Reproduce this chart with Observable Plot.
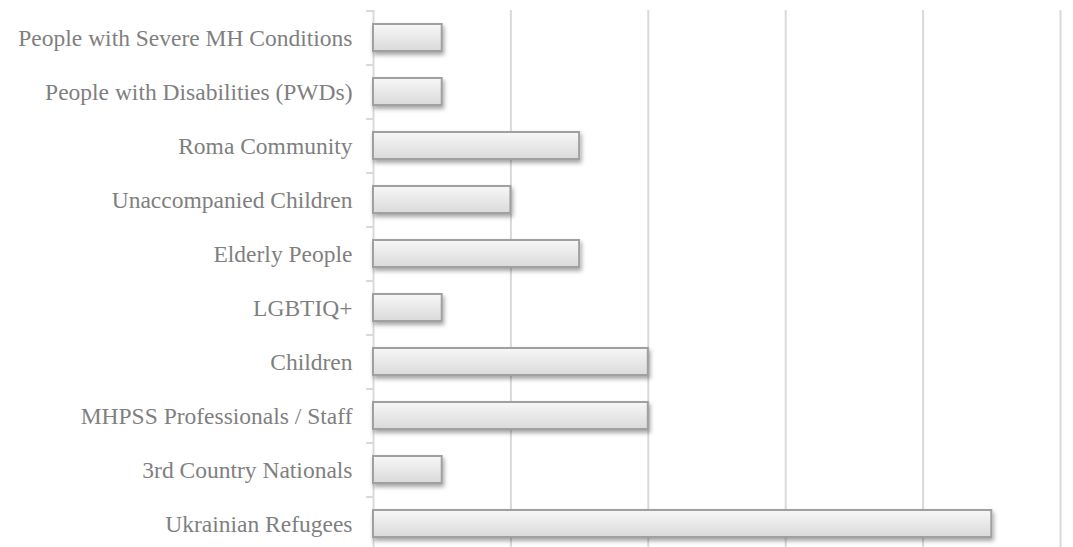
<!DOCTYPE html>
<html>
<head>
<meta charset="utf-8">
<script src="https://cdn.jsdelivr.net/npm/d3@7"></script>
<script src="https://cdn.jsdelivr.net/npm/@observablehq/plot@0.6"></script>
<style>
  html, body { margin: 0; padding: 0; background: #fff; overflow: hidden; }
  #chart { width: 1073px; height: 547px; overflow: hidden; }
</style>
</head>
<body>
<div id="chart"></div>
<script>
const categories = [
  "People with Severe MH Conditions",
  "People with Disabilities (PWDs)",
  "Roma Community",
  "Unaccompanied Children",
  "Elderly People",
  "LGBTIQ+",
  "Children",
  "MHPSS Professionals / Staff",
  "3rd Country Nationals",
  "Ukrainian Refugees"
];
const values = [1, 1, 3, 2, 3, 1, 4, 4, 1, 9];
const gridTicks = [2, 4, 6, 8, 10];

const data = categories.map((c, i) => ({category: c, value: values[i]}));

const W = 1073, H = 550, mTop = 10, mBottom = 0, mLeft = 373, mRight = 13;
const step = (H - mTop - mBottom) / categories.length;

const chart = Plot.plot({
  width: W,
  height: H,
  marginTop: mTop,
  marginBottom: mBottom,
  marginLeft: mLeft,
  marginRight: mRight,
  style: {fontFamily: "'Liberation Serif', 'DejaVu Serif', serif", fontSize: "23.5px", color: "#7f7f7f", background: "#fff"},
  x: {domain: [0, 10], axis: null},
  y: {domain: categories, paddingInner: 0.5, paddingOuter: 0.25, label: null},
  marks: [
    Plot.ruleX(gridTicks, {stroke: "#d9d9d9", strokeWidth: 2}),
    Plot.ruleX([0], {stroke: "#d9d9d9", strokeWidth: 2}),
    Plot.ruleY(categories, {y: d => d, x1: -0.1, x2: 0, dy: -step / 2, stroke: "#d9d9d9", strokeWidth: 2}),
    Plot.ruleY([categories[categories.length - 1]], {y: d => d, x1: -0.1, x2: 0, dy: step / 2, stroke: "#d9d9d9", strokeWidth: 2}),
    Plot.barX(data, {y: "category", x: "value", fill: "url(#barGrad)", stroke: "#a0a0a0", strokeWidth: 2, className: "bars"}),
    Plot.axisY({tickSize: 0, tickPadding: 21, fontSize: 23.5, fill: "#7f7f7f"})
  ]
});

const svg = d3.select(chart);
const defs = svg.insert("defs", ":first-child");
const grad = defs.append("linearGradient").attr("id", "barGrad").attr("x1", 0).attr("y1", 0).attr("x2", 0).attr("y2", 1);
grad.append("stop").attr("offset", "0%").attr("stop-color", "#f7f7f7");
grad.append("stop").attr("offset", "100%").attr("stop-color", "#dadada");
const filt = defs.append("filter").attr("id", "barShadow").attr("x", "-10%").attr("y", "-30%").attr("width", "130%").attr("height", "180%");
filt.append("feDropShadow").attr("dx", 1.5).attr("dy", 3).attr("stdDeviation", 2).attr("flood-color", "#000").attr("flood-opacity", 0.35);
svg.selectAll("g.bars rect, g[aria-label='bar'] rect").attr("filter", "url(#barShadow)");

document.getElementById("chart").appendChild(chart);
</script>
</body>
</html>
